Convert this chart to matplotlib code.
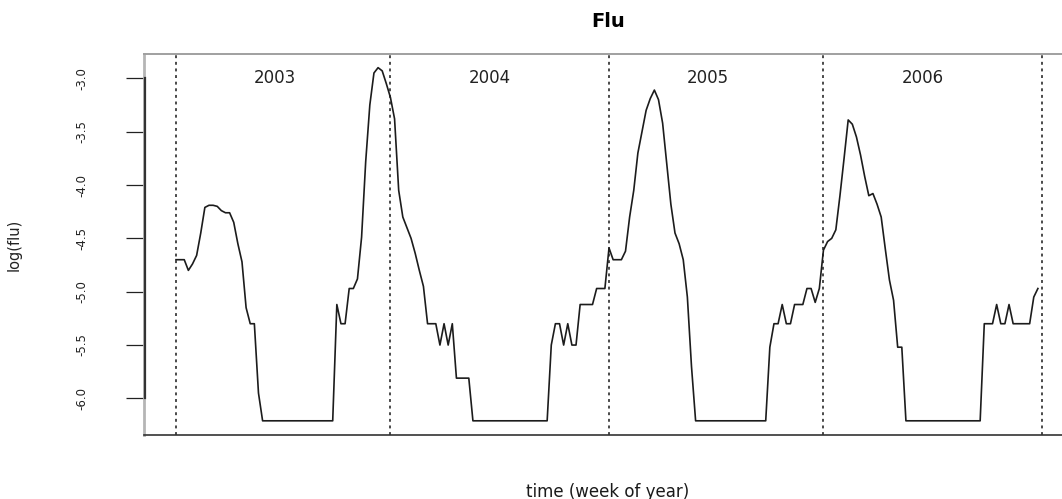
import matplotlib
matplotlib.use("Agg")
import matplotlib.pyplot as plt
import matplotlib.transforms as mtransforms
import numpy as np

plt.rcParams['axes.unicode_minus'] = False
plt.rcParams['font.family'] = ['DejaVu Sans']

## weekly log(flu), one list per season year
flu_2003 = [-4.70, -4.70, -4.70, -4.80, -4.74, -4.66, -4.45, -4.21, -4.19, -4.19,
            -4.20, -4.24, -4.26, -4.26, -4.35, -4.55, -4.72, -5.15, -5.30, -5.30,
            -5.95, -6.21, -6.21, -6.21, -6.21, -6.21, -6.21, -6.21, -6.21, -6.21,
            -6.21, -6.21, -6.21, -6.21, -6.21, -6.21, -6.21, -6.21, -6.21, -5.12,
            -5.30, -5.30, -4.97, -4.97, -4.88, -4.49, -3.78, -3.25, -2.95, -2.90,
            -2.93, -3.05]
flu_2004 = [-3.18, -3.38, -4.05, -4.30, -4.40, -4.50, -4.64, -4.80, -4.95, -5.30,
            -5.30, -5.30, -5.50, -5.30, -5.50, -5.30, -5.81, -5.81, -5.81, -5.81,
            -6.21, -6.21, -6.21, -6.21, -6.21, -6.21, -6.21, -6.21, -6.21, -6.21,
            -6.21, -6.21, -6.21, -6.21, -6.21, -6.21, -6.21, -6.21, -6.21, -5.50,
            -5.30, -5.30, -5.50, -5.30, -5.50, -5.50, -5.12, -5.12, -5.12, -5.12,
            -4.97, -4.97, -4.97]
flu_2005 = [-4.59, -4.70, -4.70, -4.70, -4.62, -4.30, -4.05, -3.70, -3.50, -3.30,
            -3.19, -3.11, -3.20, -3.42, -3.80, -4.18, -4.45, -4.55, -4.70, -5.05,
            -5.70, -6.21, -6.21, -6.21, -6.21, -6.21, -6.21, -6.21, -6.21, -6.21,
            -6.21, -6.21, -6.21, -6.21, -6.21, -6.21, -6.21, -6.21, -6.21, -5.52,
            -5.30, -5.30, -5.12, -5.30, -5.30, -5.12, -5.12, -5.12, -4.97, -4.97,
            -5.10, -4.97]
flu_2006 = [-4.61, -4.53, -4.50, -4.42, -4.10, -3.75, -3.39, -3.43, -3.55, -3.72,
            -3.92, -4.10, -4.08, -4.18, -4.30, -4.60, -4.89, -5.08, -5.52, -5.52,
            -6.21, -6.21, -6.21, -6.21, -6.21, -6.21, -6.21, -6.21, -6.21, -6.21,
            -6.21, -6.21, -6.21, -6.21, -6.21, -6.21, -6.21, -6.21, -6.21, -5.30,
            -5.30, -5.30, -5.12, -5.30, -5.30, -5.12, -5.30, -5.30, -5.30, -5.30,
            -5.30, -5.05, -4.97]

years = ['2003', '2004', '2005', '2006']
seasons = [flu_2003, flu_2004, flu_2005, flu_2006]

## time index (week number) and year boundaries
log_flu = np.concatenate(seasons)
weeks = np.arange(1, len(log_flu) + 1)
year_start = np.cumsum([1] + [len(s) for s in seasons])   # 1, 53, 106, 158, 210

fig = plt.figure(figsize=(10.62, 4.99), dpi=100)
ax = fig.add_axes([144 / 1062, 64 / 499, 928 / 1062, 381 / 499])

ax.plot(weeks, log_flu, color='#1c1c1c', lw=1.2, zorder=3)

for b in year_start:
    ax.axvline(b, color='#4a4a4a', lw=1.4, linestyle=(0, (1.5, 1.9)), zorder=2)

for yr, b in zip(years, year_start[:-1]):
    ax.text(b + 24, -3.0, yr, ha='center', va='center', fontsize=12, color='#222222')

ax.set_xlim(-6.76, 218.27)
ax.set_ylim(-6.343, -2.772)

## R-style box: light frame, dark y axis line from first to last tick
ax.set_xticks([])
ax.set_yticks(np.arange(-6.0, -2.99, 0.5))
ax.set_yticklabels(['%.1f' % v for v in np.arange(-6.0, -2.99, 0.5)])
ax.tick_params(axis='y', length=13, width=0.9, color='#222222', pad=27,
               labelsize=8.5, labelcolor='#222222')
plt.setp(ax.get_yticklabels(), rotation=90, va='center')

ax.spines['top'].set_color('#a0a0a0')
ax.spines['top'].set_linewidth(1.4)
ax.spines['left'].set_color('#b5b5b5')
ax.spines['left'].set_linewidth(2.0)
ax.spines['bottom'].set_color('#333333')
ax.spines['bottom'].set_linewidth(1.2)
ax.spines['right'].set_visible(False)

trans = mtransforms.blended_transform_factory(ax.transAxes, ax.transData)
ax.plot([0.0015, 0.0015], [-6.0, -3.0], color='#333333', lw=1.6,
        transform=trans, clip_on=False, zorder=4)

ax.set_title('Flu', fontsize=14, fontweight='bold', pad=19.5)
ax.set_xlabel('time (week of year)', fontsize=12, color='#1a1a1a')
ax.xaxis.set_label_coords(0.5, -0.125)
ax.set_ylabel('log(flu)', fontsize=10.5, color='#222222')
ax.yaxis.set_label_coords(-0.132, 0.5)

plt.savefig('out.png', dpi=100)
